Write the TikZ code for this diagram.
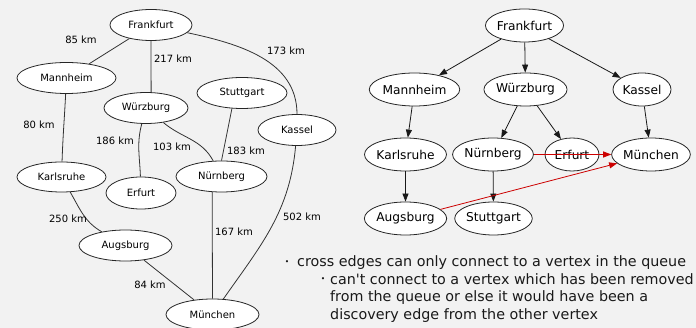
\documentclass[tikz,border=0pt]{standalone}
\usepackage{fontspec}
\setmainfont{DejaVu Sans}
\newfontfamily\btfont{DejaVu Sans}[Ligatures=TeXOff]
\usetikzlibrary{arrows.meta,shapes.geometric}
\definecolor{bg}{HTML}{F2F2F2}
\definecolor{edgered}{HTML}{CC0000}
\begin{document}
\begin{tikzpicture}[x=1pt,y=-1pt,
  lnode/.style={draw=black!85,fill=white,ellipse,inner sep=0pt,font=\fontsize{10}{12}\selectfont,line width=0.8pt},
  rnode/.style={draw=black!85,fill=white,ellipse,inner sep=0pt,font=\fontsize{12.2}{14}\selectfont,line width=0.8pt},
  ledge/.style={draw=black!80,line width=0.8pt},
  elabel/.style={font=\fontsize{10}{12}\selectfont,inner sep=0pt},
  tedge/.style={draw=black!90,line width=0.8pt,-{Triangle[length=8pt,width=6pt]}},
  xedge/.style={draw=edgered,line width=0.8pt,-{Triangle[length=8pt,width=6pt]}},
  btext/.style={font=\btfont\fontsize{14.3}{17}\selectfont,anchor=base west,inner sep=0pt,text=black!90},
  bdot/.style={font=\fontsize{7.5}{8}\selectfont,inner sep=0pt,text=black!90}]
\fill[bg] (0,0) rectangle (696,328);
\useasboundingbox (0,0) rectangle (696,328);
\begin{scope}
\clip (0,0) rectangle (696,328);
% ---------- left graph ----------
\node[lnode,minimum width=82pt,minimum height=31pt] (LFra) at (151,25) {Frankfurt};
\node[lnode,minimum width=99pt,minimum height=31pt] (LMan) at (66.5,78) {Mannheim};
\node[lnode,minimum width=84pt,minimum height=31pt] (LWue) at (146,108) {Würzburg};
\node[lnode,minimum width=90pt,minimum height=31pt] (LStu) at (242,93) {Stuttgart};
\node[lnode,minimum width=78pt,minimum height=31pt] (LKas) at (297,130) {Kassel};
\node[lnode,minimum width=89pt,minimum height=30pt] (LKar) at (61.5,177) {Karlsruhe};
\node[lnode,minimum width=70pt,minimum height=32pt] (LErf) at (141,193) {Erfurt};
\node[lnode,minimum width=91pt,minimum height=31pt] (LNue) at (221.5,176.5) {Nürnberg};
\node[lnode,minimum width=93pt,minimum height=31pt] (LAug) at (125.5,245.5) {Augsburg};
\node[lnode,minimum width=93pt,minimum height=31pt] (LMue) at (212.5,314.5) {München};

\draw[ledge] (LFra) -- (LMan);
\draw[ledge] (LFra.south) -- (LWue.72);
\draw[ledge] (LFra) to[out=-12,in=90,looseness=1] (LKas);
\draw[ledge] (LMan) to[out=-93,in=88] (LKar);
\draw[ledge] (LWue) to[out=-105,in=92] (LErf);
\draw[ledge] (LWue) to[out=-40,in=118] (LNue);
\draw[ledge] (LStu.-123) -- (LNue.north);
\draw[ledge] (LKas) to[out=-95,in=55] (LMue);
\draw[ledge] (LKar) to[out=-60,in=150] (LAug);
\draw[ledge] (LNue.-121) -- (LMue.north);
\draw[ledge] (LAug) -- (LMue);

\node[elabel] (l1) at (81,40) {85 km};
\node[elabel] (l2) at (173,59) {217 km};
\node[elabel] (l3) at (286,51) {173 km};
\node[elabel] (l4) at (39,125) {80 km};
\node[elabel] (l5) at (115,141) {186 km};
\node[elabel] (l6) at (172,147) {103 km};
\node[elabel] (l7) at (246,151) {183 km};
\node[elabel] (l8) at (302,217) {502 km};
\node[elabel] (l9) at (68,219) {250 km};
\node[elabel] (l10) at (234,232) {167 km};
\node[elabel] (l11) at (150,285) {84 km};

% ---------- right graph ----------
\node[rnode,minimum width=71pt,minimum height=33pt] (RFra) at (524.5,25.5) {Frankfurt};
\node[rnode,minimum width=79pt,minimum height=33pt] (RMan) at (414.5,89.5) {Mannheim};
\node[rnode,minimum width=75pt,minimum height=33pt] (RWue) at (525.5,89.5) {Würzburg};
\node[rnode,minimum width=58pt,minimum height=33pt] (RKas) at (642,89.5) {Kassel};
\node[rnode,minimum width=75pt,minimum height=33pt] (RKar) at (405.5,154.5) {Karlsruhe};
\node[rnode,minimum width=70pt,minimum height=33pt] (RNue) at (493,154.5) {Nürnberg};
\node[rnode,minimum width=54pt,minimum height=33pt] (RErf) at (572,154.5) {Erfurt};
\node[rnode,minimum width=72pt,minimum height=33pt] (RMue) at (651,154.5) {München};
\node[rnode,minimum width=75pt,minimum height=33pt] (RAug) at (405.5,218.5) {Augsburg};
\node[rnode,minimum width=67pt,minimum height=33pt] (RStu) at (493.5,218.5) {Stuttgart};

\draw[tedge] (RFra) -- (RMan);
\draw[tedge] (RFra) -- (RWue);
\draw[tedge] (RFra) -- (RKas);
\draw[tedge] (RMan) -- (RKar);
\draw[tedge] (RWue) -- (RNue);
\draw[tedge] (RWue) -- (RErf);
\draw[tedge] (RKas) -- (RMue);
\draw[tedge] (RKar) -- (RAug);
\draw[tedge] (RNue) -- (RStu);
\draw[xedge] (RNue.east) -- (RMue.west);
\draw[xedge] (RAug) -- (RMue);

% ---------- bullets ----------
\node[bdot] (b1) at (287,262.5) {•};
\node[btext] (t1) at (297,267) {cross edges can only connect to a vertex in the queue};
\node[bdot] (b2) at (323,280) {•};
\node[btext] (t2) at (330,284.5) {can't connect to a vertex which has been removed};
\node[btext] (t3) at (330,302) {from the queue or else it would have been a};
\node[btext] (t4) at (330,319.5) {discovery edge from the other vertex};
\end{scope}
\end{tikzpicture}
\end{document}
